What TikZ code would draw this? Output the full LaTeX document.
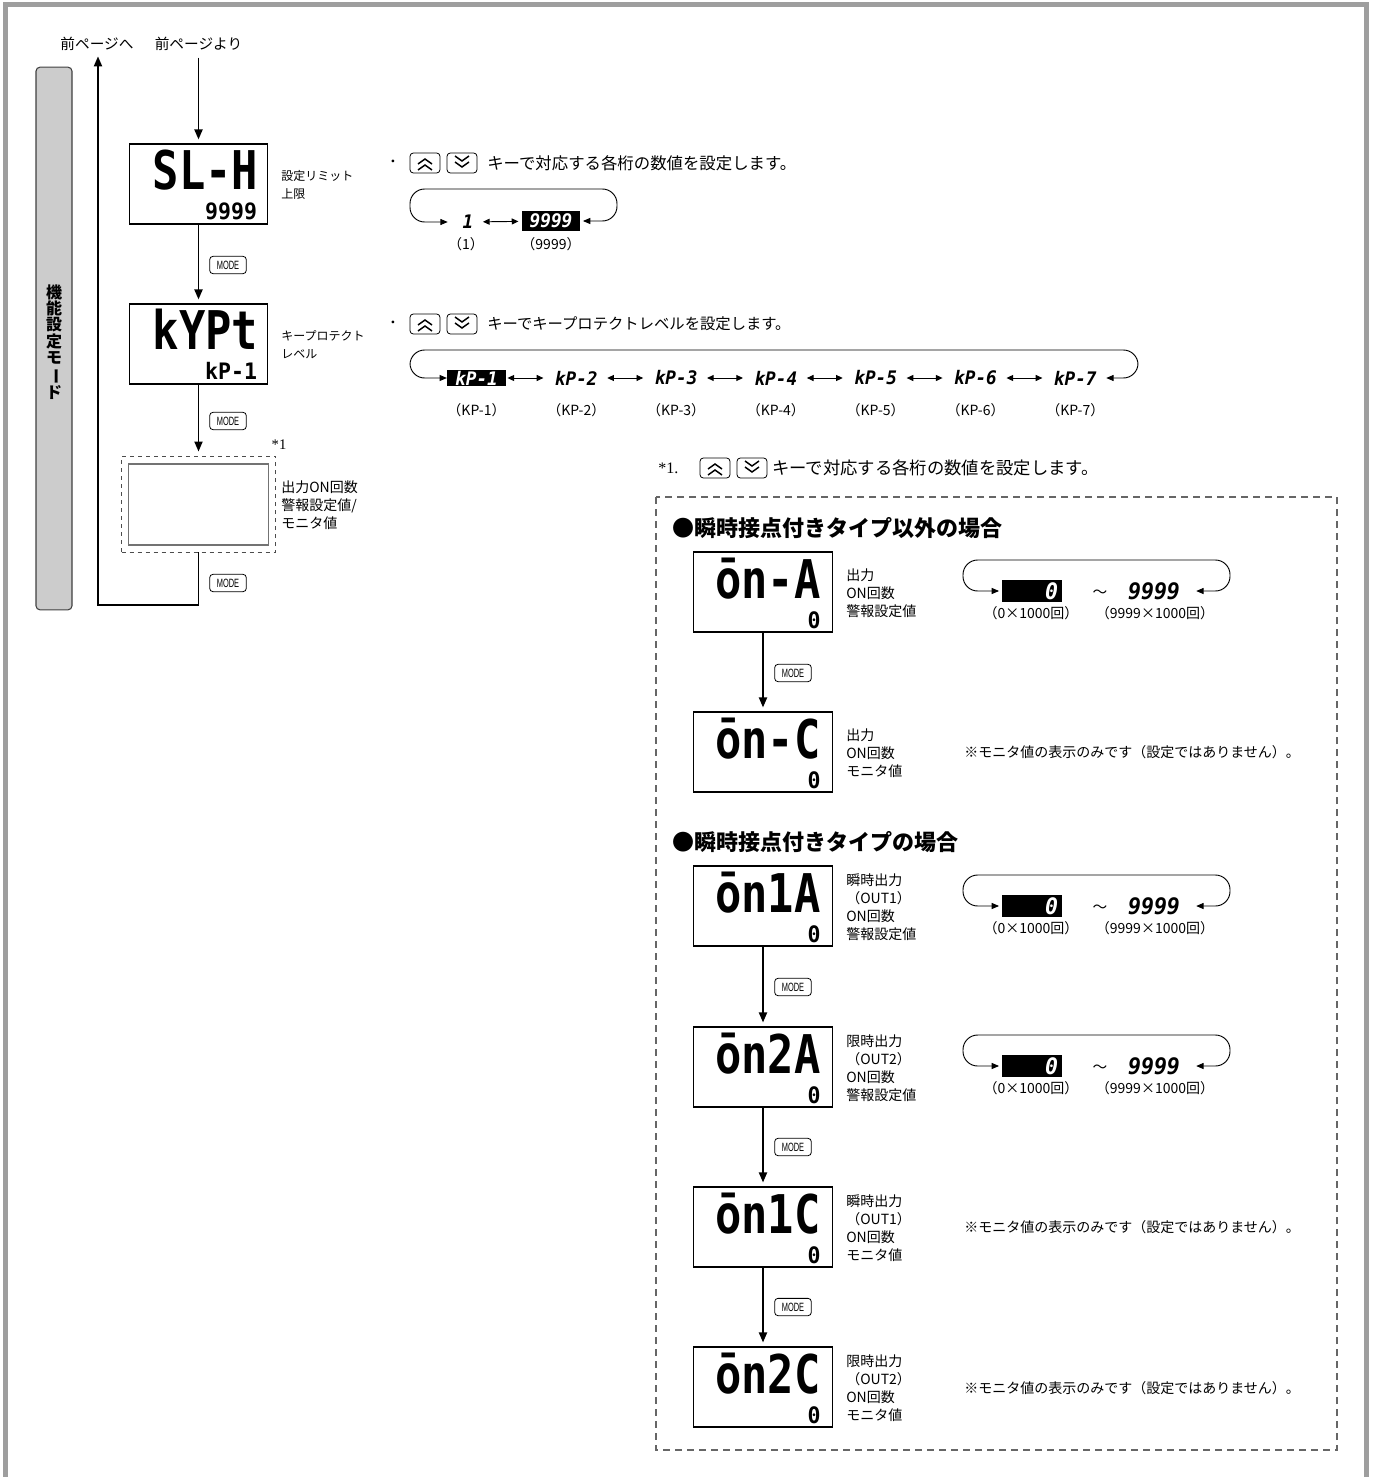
\documentclass[tikz,border=0pt]{standalone}
\usepackage{fontspec}
\setmainfont{Noto Sans CJK JP}
\newfontfamily\segfont[FakeStretch=0.82]{DejaVu Sans Mono}
\newfontfamily\segwide[FakeStretch=0.95]{DejaVu Sans Mono}
\newfontfamily\keyfont[FakeStretch=0.62]{Liberation Sans}
\newfontfamily\serfont{Liberation Serif}
\usetikzlibrary{arrows.meta,positioning}
\begin{document}
\begin{tikzpicture}[
  x=0.75pt, y=-0.75pt,
  disp/.style={draw=black, line width=0.8pt, minimum width=104pt, minimum height=60pt, inner sep=0pt},
  bigseg/.style={font=\segfont\bfseries\fontsize{40}{40}\selectfont, inner sep=0pt, anchor=base east},
  smallseg/.style={font=\segwide\bfseries\fontsize{17}{17}\selectfont, inner sep=0pt, anchor=base east},
  lbl/.style={anchor=west, align=left, inner sep=0pt, font=\fontsize{10.5}{13.5}\selectfont},
  slbl/.style={anchor=west, align=left, inner sep=0pt, font=\fontsize{9}{13.5}\selectfont},
  modekey/.style={draw, rounded corners=2.5pt, line width=0.6pt, minimum width=27.5pt,
    minimum height=13pt, inner sep=0pt, font=\keyfont\fontsize{9}{9}\selectfont},
  flow/.style={line width=1.4pt, -{Triangle[length=7.5pt,width=6pt]}, shorten >=3pt},
  cyc/.style={line width=0.7pt, rounded corners=11pt,
    {Triangle[length=5.5pt,width=4.5pt]}-{Triangle[length=5.5pt,width=4.5pt]}},
  dbl/.style={line width=0.7pt, {Triangle[length=5pt,width=4.5pt]}-{Triangle[length=5pt,width=4.5pt]},
    shorten <=1pt, shorten >=2.5pt},
  segitem/.style={font=\segwide\bfseries\itshape\fontsize{14}{14}\selectfont,
    minimum width=44pt, minimum height=12pt, inner sep=0pt},
  segneg/.style={segitem, fill=black, text=white},
  rangeseg/.style={font=\segwide\bfseries\itshape\fontsize{17}{17}\selectfont, inner sep=0pt},
  rangeneg/.style={rangeseg, fill=black, text=white, text width=39pt, align=right,
    inner xsep=3pt, minimum height=16.5pt},
  val/.style={font=\fontsize{10.5}{12}\selectfont, inner sep=0pt},
  note/.style={anchor=west, inner sep=0pt},
  pics/upkey/.style={code={
    \draw[rounded corners=2.5pt, line width=0.6pt] (-15,-10) rectangle (15,10);
    \draw[line width=1.1pt] (-7,1) -- (0,-4) -- (7,1) (-7,7) -- (0,2) -- (7,7);
  }},
  pics/downkey/.style={code={
    \draw[rounded corners=2.5pt, line width=0.6pt] (-15,-10) rectangle (15,10);
    \draw[line width=1.1pt] (-7,-7) -- (0,-2) -- (7,-7) (-7,-1) -- (0,4) -- (7,-1);
  }}
]
\colorlet{Cframe}{black!38}
\colorlet{Cbar}{black!20}
\colorlet{Cdash}{black!60}
\useasboundingbox (0,0) rectangle (1372,1477);
%% PAGE FRAME
\draw[Cframe, line width=3.75pt] (5,1477) -- (5,5) -- (1366.5,5) -- (1366.5,1477);
%% SIDE BAR
\node[draw=black!75, fill=Cbar, rounded corners=3pt, line width=0.8pt,
  minimum width=27pt, minimum height=407pt] (bar) at (54,338.5) {};
\node[font=\bfseries\fontsize{12}{12.3}\selectfont, align=center, inner sep=0pt] (barlbl) at (54,342)
  {機\\能\\設\\定\\モ\\\rotatebox[origin=c]{-90}{ー}\\ド};
%% LEFT COLUMN
\node[font=\fontsize{11}{11}\selectfont, inner sep=0pt] (back) at (97,44) {前ページへ};
\node[font=\fontsize{11}{11}\selectfont, inner sep=0pt] (from) at (198.5,44) {前ページより};
\node[disp] (slh) at (198.5,184) {};
\node[bigseg] (slhA) at ([shift={(-10,46)}]slh.north east) {SL-H};
\node[smallseg] (slhB) at ([shift={(-11,76)}]slh.north east) {9999};
\node[slbl] (slhL) at (281,184.5) {設定リミット\\上限};
\node[disp] (kypt) at (198.5,344) {};
\node[bigseg] (kyptA) at ([shift={(-10,46)}]kypt.north east) {kYPt};
\node[smallseg] (kyptB) at ([shift={(-11,76)}]kypt.north east) {kP-1};
\node[slbl] (kyptL) at (281,344.5) {キープロテクト\\レベル};
\node[draw=black!70, dashed, line width=0.7pt, minimum width=115.5pt, minimum height=72pt] (dbox) at (198.5,504) {};
\node[draw=black!55, line width=0.8pt, minimum width=105pt, minimum height=60.75pt] (inbox) at (198.5,504.5) {};
\node[font=\serfont\fontsize{11}{11}\selectfont, inner sep=0pt] (star) at (279,445) {*1};
\node[lbl] (dboxL) at (281,505) {出力ON回数\\警報設定値/\\モニタ値};
\node[modekey] (m1) at (228,265) {MODE};
\node[modekey] (m2) at (228,421) {MODE};
\node[modekey] (m3) at (228,583) {MODE};
\coordinate (ret) at (98,605);
\draw[flow, shorten <=5pt] (from) -- (slh);
\draw[flow] (slh) -- (kypt);
\draw[flow] (kypt) -- (dbox);
\draw[flow, shorten >=4pt] (dbox.south) |- (ret) -- (ret |- back.south);
%% KEY NOTE 1
\node[font=\fontsize{10}{10}\selectfont, inner sep=0pt] (dot1) at (393,163) {・};
\pic at (425,163) {upkey};
\pic at (462,163) {downkey};
\node[note, font=\fontsize{12.3}{14}\selectfont] (txt1) at (487,163) {キーで対応する各桁の数値を設定します。};
\node[segitem, minimum width=20pt] (one) at (468,222) {1};
\node[segneg, minimum width=43.5pt, minimum height=14.5pt] (nine) at (551,221) {9999};
\node[val] (oneL) at (466,244) {（1）};
\node[val] (nineL) at (551,244) {（9999）};
\coordinate (c1L) at (410,189);
\coordinate (c1R) at (617,189);
\draw[dbl] (one) -- (nine);
\draw[cyc] ([xshift=-5pt]one.west) -| (c1L) -- (c1R) |- ([xshift=2pt]nine.east);
%% KEY NOTE 2
\node[font=\fontsize{10}{10}\selectfont, inner sep=0pt] (dot2) at (393,324) {・};
\pic at (425,324) {upkey};
\pic at (462,324) {downkey};
\node[note, font=\fontsize{11.5}{14}\selectfont] (txt2) at (487,324) {キーでキープロテクトレベルを設定します。};
\node[segneg] (kp1) at (476.5,378) {kP-1};
\node[segitem] (kp2) at (576.3,378) {kP-2};
\node[segitem] (kp3) at (676.1,378) {kP-3};
\node[segitem] (kp4) at (775.9,378) {kP-4};
\node[segitem] (kp5) at (875.7,378) {kP-5};
\node[segitem] (kp6) at (975.5,378) {kP-6};
\node[segitem] (kp7) at (1075.3,378) {kP-7};
\node[val] (kp1L) at (476.5,410) {（KP-1）};
\node[val] (kp2L) at (576.3,410) {（KP-2）};
\node[val] (kp3L) at (676.1,410) {（KP-3）};
\node[val] (kp4L) at (775.9,410) {（KP-4）};
\node[val] (kp5L) at (875.7,410) {（KP-5）};
\node[val] (kp6L) at (975.5,410) {（KP-6）};
\node[val] (kp7L) at (1075.3,410) {（KP-7）};
\draw[dbl] (kp1) -- (kp2);
\draw[dbl] (kp2) -- (kp3);
\draw[dbl] (kp3) -- (kp4);
\draw[dbl] (kp4) -- (kp5);
\draw[dbl] (kp5) -- (kp6);
\draw[dbl] (kp6) -- (kp7);
\coordinate (c2L) at (410,350);
\coordinate (c2R) at (1138,350);
\draw[cyc] (kp1.west) -| (c2L) -- (c2R) |- ([xshift=1pt]kp7.east);
%% FOOTNOTE *1
\node[note, font=\serfont\fontsize{12}{12}\selectfont] (star2) at (658,468) {*1.};
\pic at (715,468) {upkey};
\pic at (752,468) {downkey};
\node[note, font=\fontsize{13}{14}\selectfont] (txt3) at (772,468) {キーで対応する各桁の数値を設定します。};
\draw[Cdash, line width=0.8pt, dash pattern=on 5.25pt off 3.75pt] (656,497) rectangle (1337,1450);
%% TYPES WITHOUT INSTANT CONTACT
\node[note, font=\bfseries\fontsize{16.5}{18}\selectfont] (h1) at (672,528) {●瞬時接点付きタイプ以外の場合};
\node[disp] (ona) at (763,592) {};
\node[bigseg] (onaA) at ([shift={(-12,47)}]ona.north east) {ōn-A};
\node[smallseg] (onaB) at ([shift={(-12,77)}]ona.north east) {0};
\node[lbl] (onaL) at (846,593) {出力\\ON回数\\警報設定値};
\node[rangeneg] (z1) at (1032,591) {0};
\node[font=\fontsize{11}{11}\selectfont, inner sep=0pt] (tl1) at (1100,594) {～};
\node[rangeseg] (n1) at (1154,591) {9999};
\node[val] (z1L) at (1031,613) {（0×1000回）};
\node[val] (n1L) at (1155,613) {（9999×1000回）};
\coordinate (r1L) at (963,560);
\coordinate (r1R) at (1230,560);
\draw[cyc] ([xshift=-2pt]z1.west) -| (r1L) -- (r1R) |- ([xshift=12pt]n1.east);
\node[disp] (onc) at (763,752) {};
\node[bigseg] (oncA) at ([shift={(-12,47)}]onc.north east) {ōn-C};
\node[smallseg] (oncB) at ([shift={(-12,77)}]onc.north east) {0};
\node[lbl] (oncL) at (846,753) {出力\\ON回数\\モニタ値};
\node[note, font=\fontsize{10.5}{12}\selectfont] (ncC) at (964,752) {※モニタ値の表示のみです（設定ではありません）。};
\node[modekey] (m4) at (793,673) {MODE};
\draw[flow] (ona) -- (onc);
%% TYPES WITH INSTANT CONTACT
\node[note, font=\bfseries\fontsize{16.5}{18}\selectfont] (h2) at (672,842) {●瞬時接点付きタイプの場合};
\node[disp] (on1a) at (763,906) {};
\node[bigseg] (on1aA) at ([shift={(-12,47)}]on1a.north east) {ōn1A};
\node[smallseg] (on1aB) at ([shift={(-12,77)}]on1a.north east) {0};
\node[lbl] (on1aL) at (846,907) {瞬時出力\\（OUT1）\\ON回数\\警報設定値};
\node[rangeneg] (z2) at (1032,906) {0};
\node[font=\fontsize{11}{11}\selectfont, inner sep=0pt] (tl2) at (1100,909) {～};
\node[rangeseg] (n2) at (1154,906) {9999};
\node[val] (z2L) at (1031,928) {（0×1000回）};
\node[val] (n2L) at (1155,928) {（9999×1000回）};
\coordinate (r2L) at (963,875);
\coordinate (r2R) at (1230,875);
\draw[cyc] ([xshift=-2pt]z2.west) -| (r2L) -- (r2R) |- ([xshift=12pt]n2.east);
\node[disp] (on2a) at (763,1067) {};
\node[bigseg] (on2aA) at ([shift={(-12,47)}]on2a.north east) {ōn2A};
\node[smallseg] (on2aB) at ([shift={(-12,77)}]on2a.north east) {0};
\node[lbl] (on2aL) at (846,1068) {限時出力\\（OUT2）\\ON回数\\警報設定値};
\node[rangeneg] (z3) at (1032,1066) {0};
\node[font=\fontsize{11}{11}\selectfont, inner sep=0pt] (tl3) at (1100,1069) {～};
\node[rangeseg] (n3) at (1154,1066) {9999};
\node[val] (z3L) at (1031,1088) {（0×1000回）};
\node[val] (n3L) at (1155,1088) {（9999×1000回）};
\coordinate (r3L) at (963,1035);
\coordinate (r3R) at (1230,1035);
\draw[cyc] ([xshift=-2pt]z3.west) -| (r3L) -- (r3R) |- ([xshift=12pt]n3.east);
\node[disp] (on1c) at (763,1227) {};
\node[bigseg] (on1cA) at ([shift={(-12,47)}]on1c.north east) {ōn1C};
\node[smallseg] (on1cB) at ([shift={(-12,77)}]on1c.north east) {0};
\node[lbl] (on1cL) at (846,1228) {瞬時出力\\（OUT1）\\ON回数\\モニタ値};
\node[note, font=\fontsize{10.5}{12}\selectfont] (nc1C) at (964,1227) {※モニタ値の表示のみです（設定ではありません）。};
\node[disp] (on2c) at (763,1387) {};
\node[bigseg] (on2cA) at ([shift={(-12,47)}]on2c.north east) {ōn2C};
\node[smallseg] (on2cB) at ([shift={(-12,77)}]on2c.north east) {0};
\node[lbl] (on2cL) at (846,1388) {限時出力\\（OUT2）\\ON回数\\モニタ値};
\node[note, font=\fontsize{10.5}{12}\selectfont] (nc2C) at (964,1388) {※モニタ値の表示のみです（設定ではありません）。};
\node[modekey] (m5) at (793,987) {MODE};
\node[modekey] (m6) at (793,1147) {MODE};
\node[modekey] (m7) at (793,1307) {MODE};
\draw[flow] (on1a) -- (on2a);
\draw[flow] (on2a) -- (on1c);
\draw[flow] (on1c) -- (on2c);
\end{tikzpicture}
\end{document}
